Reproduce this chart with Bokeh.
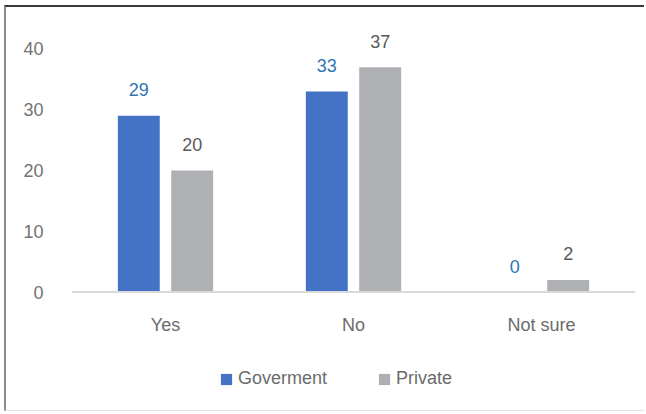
from bokeh.plotting import figure
from bokeh.models import ColumnDataSource, FactorRange, Range1d, FixedTicker, Legend, LegendItem, Span
from bokeh.transform import dodge
from bokeh.core.properties import value
from bokeh.embed import file_html
from bokeh.resources import INLINE

categories = ["Yes", "No", "Not sure"]
goverment = [29, 33, 0]
private = [20, 37, 2]
y_ticks = [0, 10, 20, 30, 40]
series_names = ["Goverment", "Private"]

FONT = "Liberation Sans"
FS = "18px"
BLUE = "#4472C4"
GREY = "#AFB0B3"

source = ColumnDataSource(data=dict(
    cat=categories,
    base=[0] * len(categories),
    gov=goverment,
    priv=private,
    gov_txt=[str(v) for v in goverment],
    priv_txt=[str(v) for v in private],
))

p = figure(
    width=640, height=406,
    x_range=FactorRange(factors=categories, range_padding=0),
    y_range=Range1d(-18, 45),
    output_backend="svg", toolbar_location=None,
    min_border_left=65, min_border_right=11, min_border_top=11, min_border_bottom=12,
)
p.styles = {
    "margin-left": "4px",
    "margin-top": "5px",
    "border-left": "2px solid #8c8c8c",
    "border-top": "2px solid #3a3a3a",
    "border-bottom": "1px solid #e2e2e2",
}
p.outline_line_color = None
p.xgrid.visible = False
p.ygrid.visible = False
p.xaxis.visible = False

# baseline at zero
p.add_layout(Span(location=0, dimension="width", line_color="#d9d9d9", line_width=2))

off = 0.142
bw = 0.223
r1 = p.vbar(x=dodge("cat", -off, range=p.x_range), top="gov", width=bw, source=source,
            fill_color=BLUE, line_color=None)
r2 = p.vbar(x=dodge("cat", off, range=p.x_range), top="priv", width=bw, source=source,
            fill_color=GREY, line_color=None)

p.text(x=dodge("cat", -off, range=p.x_range), y="gov", text="gov_txt", source=source,
       text_font=value(FONT), text_font_size=FS, text_color="#2f75b5",
       text_align="center", text_baseline="alphabetic", y_offset=-26)
p.text(x=dodge("cat", off, range=p.x_range), y="priv", text="priv_txt", source=source,
       text_font=value(FONT), text_font_size=FS, text_color="#595959",
       text_align="center", text_baseline="alphabetic", y_offset=-26)

# category labels under the baseline
p.text(x="cat", y="base", text="cat", source=source,
       text_font=value(FONT), text_font_size=FS, text_color="#6b6b6b",
       text_align="center", text_baseline="alphabetic", y_offset=33)

# y axis
p.yaxis.ticker = FixedTicker(ticks=y_ticks)
p.yaxis.axis_line_color = None
p.yaxis.major_tick_line_color = None
p.yaxis.minor_tick_line_color = None
p.yaxis.major_tick_out = 0
p.yaxis.major_tick_in = 0
p.yaxis.major_label_standoff = 28
p.yaxis.major_label_text_font = FONT
p.yaxis.major_label_text_font_size = FS
p.yaxis.major_label_text_color = "#737373"

legend = Legend(
    items=[LegendItem(label=series_names[0], renderers=[r1]),
           LegendItem(label=series_names[1], renderers=[r2])],
    orientation="horizontal",
    location=(148, 12),
    glyph_width=14, glyph_height=14, label_height=20,
    label_standoff=5, spacing=50, padding=0, margin=0,
    label_text_font=FONT, label_text_font_size=FS, label_text_color="#6b6b6b",
    border_line_color=None, background_fill_alpha=0,
)
p.add_layout(legend, "center")

open("out.html", "w").write(file_html(p, INLINE))
